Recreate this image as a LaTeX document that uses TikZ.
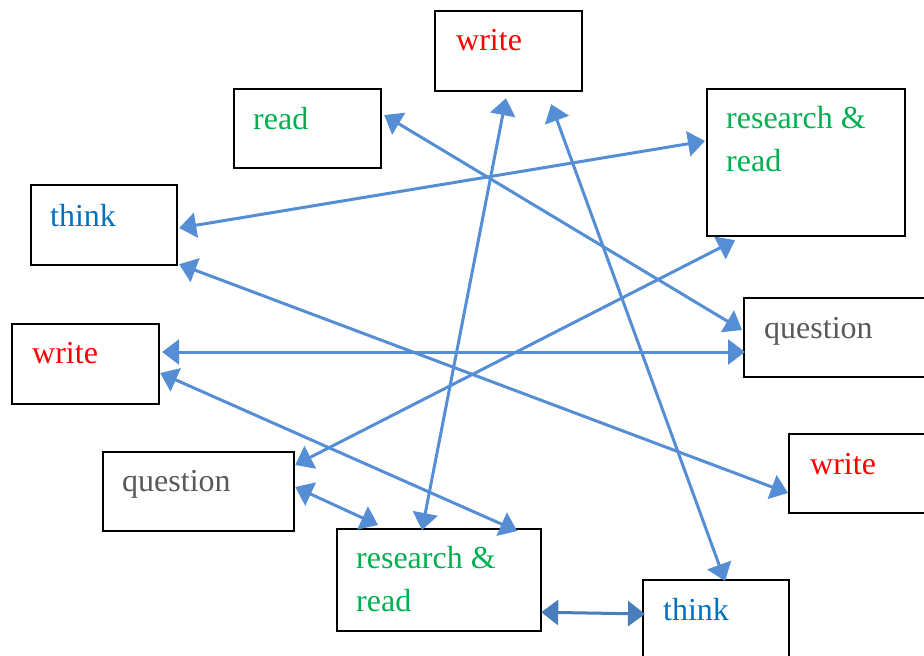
\documentclass[tikz,border=0pt]{standalone}
\usepackage{fontspec}
\setmainfont{Liberation Serif}
\usetikzlibrary{arrows.meta,positioning}

\definecolor{linkblue}{RGB}{85,142,213}
\definecolor{linkdark}{RGB}{74,126,187}
\definecolor{wgreen}{RGB}{0,176,80}
\definecolor{wblue}{RGB}{0,112,192}
\definecolor{wgray}{RGB}{89,89,89}

\begin{document}
\begin{tikzpicture}[
    x=1pt, y=-1pt,
    box/.style={draw, line width=2.2pt, anchor=north west, inner sep=0pt},
    lbl/.style={anchor=base west, inner sep=0pt, align=left, font=\fontsize{32}{43}\selectfont},
    link/.style={line width=3pt, color=linkblue, {Triangle[length=17pt,width=25pt]}-{Triangle[length=17pt,width=25pt]}}
]
    \useasboundingbox (0,0) rectangle (924,656);

    % boxes
    \node[box, minimum width=147pt, minimum height=80pt] (writeT) at (434,10) {};
    \node[box, minimum width=147pt, minimum height=79pt] (read) at (233,88) {};
    \node[box, minimum width=198pt, minimum height=147pt] (resT) at (706,88) {};
    \node[box, minimum width=146pt, minimum height=80pt] (thinkL) at (30,184) {};
    \node[box, minimum width=147pt, minimum height=80pt] (writeL) at (11,323) {};
    \node[box, minimum width=210pt, minimum height=79pt] (questR) at (743,297) {};
    \node[box, minimum width=160pt, minimum height=79pt] (writeR) at (788,433) {};
    \node[box, minimum width=191pt, minimum height=79pt] (questL) at (102,451) {};
    \node[box, minimum width=204pt, minimum height=102pt] (resB) at (336,528) {};
    \node[box, minimum width=146pt, minimum height=100pt] (thinkB) at (642,579) {};

    % texts (base = last line)
    \node[lbl, red] (twriteT) at ([shift={(22,40)}]writeT.north west) {write};
    \node[lbl, wgreen] (tread) at ([shift={(20,41)}]read.north west) {read};
    \node[lbl, wgreen] (tresT) at ([shift={(20,83)}]resT.north west) {research \&\\read};
    \node[lbl, wblue] (tthinkL) at ([shift={(20,42)}]thinkL.north west) {think};
    \node[lbl, red] (twriteL) at ([shift={(21,40)}]writeL.north west) {write};
    \node[lbl, wgray] (tquestR) at ([shift={(21,41)}]questR.north west) {question};
    \node[lbl, red] (twriteR) at ([shift={(22,41)}]writeR.north west) {write};
    \node[lbl, wgray] (tquestL) at ([shift={(20,40)}]questL.north west) {question};
    \node[lbl, wgreen] (tresB) at ([shift={(20,83)}]resB.north west) {research \&\\read};
    \node[lbl, wblue] (tthinkB) at ([shift={(21,41)}]thinkB.north west) {think};

    % connectors
    \draw[link] ([shift={(2,27)}]read.north east) -- ([shift={(-1,33)}]questR.north west);
    \draw[link] ([shift={(1,44)}]thinkL.north east) -- ([shift={(-1,53)}]resT.north west);
    \draw[link] ([shift={(1,-2)}]thinkL.south east) -- ([shift={(0,60)}]writeR.north west);
    \draw[link] ([shift={(2,29)}]writeL.north east) -- ([shift={(2,55)}]questR.north west);
    \draw[link] ([shift={(0,50)}]writeL.north east) -- ([shift={(-25,3)}]resB.north east);
    \draw[link] ([shift={(0,14)}]questL.north east) -- ([shift={(29,3)}]resT.south west);
    \draw[link] ([shift={(0,36)}]questL.north east) -- ([shift={(42,-3)}]resB.north west);
    \draw[link] ([shift={(72,6)}]writeT.south west) -- ([shift={(86,2)}]resB.north west);
    \draw[link] ([shift={(-32,12)}]writeT.south east) -- ([shift={(83,2)}]thinkB.north west);
    \draw[link, color=linkdark] ([shift={(-1,-20)}]resB.south east) -- ([shift={(3,35)}]thinkB.north west);
\end{tikzpicture}
\end{document}
